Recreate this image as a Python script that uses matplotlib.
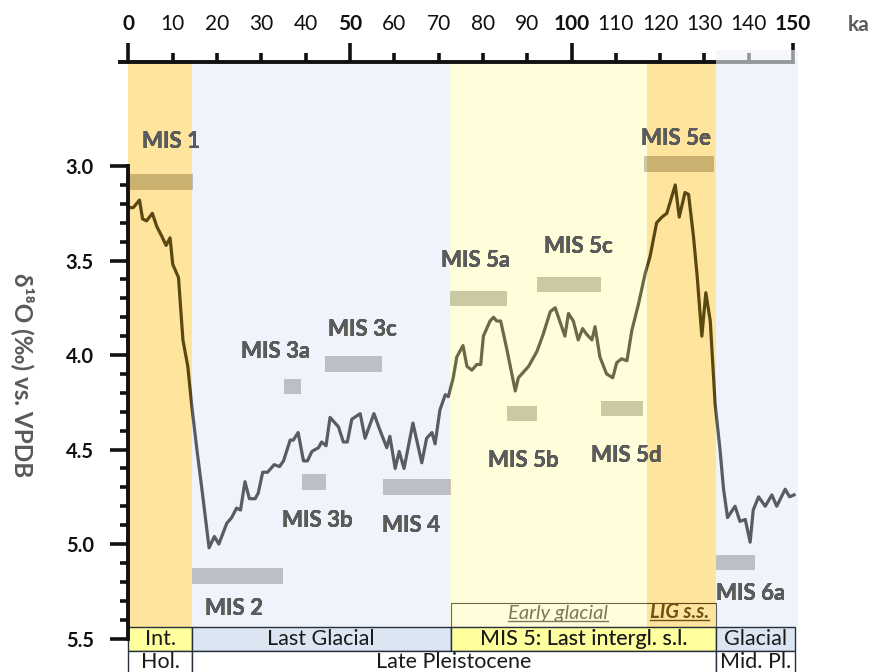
import numpy as np
import matplotlib
matplotlib.use('Agg')
import matplotlib.pyplot as plt
from matplotlib.patches import Rectangle
from matplotlib.transforms import Bbox, TransformedBbox

plt.rcParams['font.family'] = ['Lato', 'DejaVu Sans']

# benthic d18O stack, ka vs permil
age = [0.4, 1.1, 2.5, 3.2, 4.1, 5.4, 6.4, 7.5, 8.5, 9.4,
       10.0, 11.3, 12.3, 13.4, 14.3, 15.4, 16.8, 18.2, 19.4, 20.4,
       22.2, 23.3, 24.4, 25.3, 26.3, 27.3, 28.6, 29.3, 30.3, 31.4,
       32.9, 34.1, 35.0, 36.5, 37.2, 38.3, 39.5, 40.4, 41.4, 42.9,
       43.6, 44.6, 45.5, 47.4, 48.5, 49.4, 50.4, 52.3, 53.4, 55.4,
       56.8, 58.3, 59.0, 60.2, 61.1, 62.2, 64.2, 66.2, 67.3, 68.5,
       69.2, 70.3, 71.5, 72.2, 73.3, 74.1, 75.5, 76.4, 77.5, 78.6,
       79.5, 80.1, 81.6, 82.4, 83.1, 84.0, 85.4, 87.3, 88.0, 90.3,
       92.2, 93.6, 95.2, 96.3, 98.5, 99.3, 100.4, 101.5, 102.5, 103.4,
       104.6, 105.3, 106.4, 107.9, 109.3, 110.2, 111.3, 112.5, 113.6, 115.1,
       116.6, 117.7, 119.2, 120.4, 121.5, 123.4, 124.3, 125.6, 126.4, 127.5,
       128.3, 129.4, 130.3, 131.3, 132.4, 133.5, 134.3, 135.2, 136.9, 138.0,
       139.2, 140.3, 141.0, 142.2, 143.7, 145.2, 146.3, 148.2, 149.2, 150.2]
d18o = [3.22, 3.22, 3.18, 3.28, 3.29, 3.25, 3.32, 3.37, 3.42, 3.38,
        3.52, 3.59, 3.92, 4.06, 4.27, 4.49, 4.75, 5.02, 4.96, 5.00,
        4.89, 4.86, 4.81, 4.82, 4.67, 4.76, 4.76, 4.73, 4.62, 4.62,
        4.58, 4.59, 4.56, 4.45, 4.45, 4.41, 4.56, 4.56, 4.51, 4.49,
        4.46, 4.48, 4.33, 4.38, 4.46, 4.46, 4.34, 4.31, 4.44, 4.31,
        4.40, 4.49, 4.43, 4.60, 4.51, 4.60, 4.36, 4.57, 4.44, 4.41,
        4.47, 4.29, 4.21, 4.22, 4.12, 4.01, 3.95, 4.06, 4.08, 4.05,
        4.05, 3.90, 3.82, 3.80, 3.82, 3.82, 3.97, 4.19, 4.12, 4.06,
        3.98, 3.89, 3.77, 3.75, 3.90, 3.78, 3.82, 3.92, 3.86, 3.89,
        3.92, 3.85, 4.01, 4.10, 4.12, 4.04, 4.02, 4.03, 3.87, 3.73,
        3.57, 3.48, 3.30, 3.27, 3.25, 3.10, 3.27, 3.14, 3.15, 3.37,
        3.57, 3.90, 3.67, 3.82, 4.26, 4.50, 4.71, 4.86, 4.80, 4.88,
        4.87, 4.99, 4.82, 4.75, 4.80, 4.74, 4.80, 4.71, 4.75, 4.74]

# MIS substage bars
mis_names = ['MIS 1', 'MIS 2', 'MIS 3a', 'MIS 3b', 'MIS 3c', 'MIS 4',
             'MIS 5a', 'MIS 5b', 'MIS 5c', 'MIS 5d', 'MIS 5e', 'MIS 6a']
mis_start = [0.4, 14.4, 35.0, 39.1, 44.4, 57.4, 72.6, 85.5, 92.1, 106.6, 116.4, 132.6]
mis_end = [14.5, 34.9, 39.0, 44.6, 57.3, 72.7, 85.4, 92.1, 106.7, 116.2, 132.2, 141.4]
mis_level = [3.085, 5.17, 4.167, 4.672, 4.048, 4.697, 3.70, 4.309, 3.627, 4.283, 2.99, 5.098]
label_x = [9.5, 23.9, 33.3, 42.6, 52.9, 63.7, 78.4, 89.1, 101.5, 112.3, 123.5, 140.5]
label_y = [2.906, 5.376, 4.017, 4.908, 3.899, 4.935, 3.533, 4.591, 3.459, 4.565, 2.889, 5.296]

# climate bands
band_start = [0, 14.3, 72.6, 117.0, 132.7]
band_end = [14.3, 72.6, 117.0, 132.7, 151.1]
band_kind = ['warm', 'cold', 'mis5', 'warm', 'cold']

# bottom table
row1_labels = ['Int.', 'Last Glacial', 'MIS 5: Last intergl. s.l.', 'Glacial']
row1_start = [0, 14.3, 72.7, 132.7]
row1_end = [14.3, 72.7, 132.7, 150.4]
row1_fill = ['#FFFF9E', '#DCE6F2', '#FFFF9E', '#DCE6F2']
row2_labels = ['Hol.', 'Late Pleistocene', 'Mid. Pl.']
row2_start = [0, 14.3, 132.7]
row2_end = [14.3, 132.7, 150.4]

x_major = [0, 50, 100, 150]
x_minor = [10, 20, 30, 40, 60, 70, 80, 90, 110, 120, 130, 140]
y_major = [3.0, 3.5, 4.0, 4.5, 5.0, 5.5]

STYLE = {
    'warm': dict(fill='#FFE49E', line='#5A4813', bar='#CBB16F', text='#4F4113'),
    'cold': dict(fill='#EFF3FB', line='#595C64', bar='#BCBFC7', text='#595C65'),
    'mis5': dict(fill='#FFFDDA', line='#6B6946', bar='#CBC9A4', text='#65643D'),
}

fig = plt.figure(figsize=(8.72, 6.72), dpi=100)
ax = fig.add_axes([120 / 872, 0, 678 / 872, 622 / 672])
ax.set_xlim(-1.9, 151.1)
ax.set_ylim(5.677, 2.386)
ax.patch.set_visible(False)

AXIS_Y = 2.45
ROW1 = (5.439, 5.566)
ROW2 = (5.566, 5.72)


def clip_box(x0, x1):
    lo, hi = ax.get_ylim()
    return TransformedBbox(Bbox([[x0, lo], [x1, hi]]), ax.transData)


# bands
for s, e, k in zip(band_start, band_end, band_kind):
    ax.add_patch(Rectangle((s, AXIS_Y), e - s, ROW1[0] - AXIS_Y,
                           facecolor=STYLE[k]['fill'], edgecolor='none', zorder=0))

# everything under the bands gets the band's tint
for s, e, k in zip(band_start, band_end, band_kind):
    st = STYLE[k]
    cb = clip_box(s, e)
    bars = ax.barh(mis_level, np.array(mis_end) - np.array(mis_start), left=mis_start,
                   height=0.082, color=st['bar'], zorder=1)
    for b in bars:
        b.set_clip_box(cb)
    ln, = ax.plot(age, d18o, color=st['line'], lw=2.3, solid_joinstyle='round', zorder=2)
    ln.set_clip_box(cb)
    for name, lx, ly in zip(mis_names, label_x, label_y):
        t = ax.text(lx, ly, name, ha='center', va='baseline', fontsize=16,
                    fontweight='bold', color=st['text'], zorder=3)
        t.set_clip_box(cb)
    eg = Rectangle((72.7, 5.312), 132.7 - 72.7, ROW1[0] - 5.312, facecolor='none',
                   edgecolor=st['line'], lw=0.8, zorder=1)
    ax.add_patch(eg)
    eg.set_clip_box(cb)

# blue band over the top axis beyond 130 ka
ax.add_patch(Rectangle((band_start[4], 2.386), band_end[4] - band_start[4], 0.09,
                       facecolor=STYLE['cold']['fill'], alpha=0.6, edgecolor='none',
                       zorder=5, clip_on=False))

# table
for lab, s, e, f in zip(row1_labels, row1_start, row1_end, row1_fill):
    ax.add_patch(Rectangle((s, ROW1[0]), e - s, ROW1[1] - ROW1[0], facecolor=f,
                           edgecolor='#26313d', lw=1.0, zorder=1))
    if lab.startswith('MIS 5'):
        for x0, x1, c in [(s, 117.0, '#85845C'), (117.0, e, '#1a1a1a')]:
            t = ax.text((s + e) / 2, sum(ROW1) / 2, lab, ha='center', va='center',
                        fontsize=15.5, color=c, zorder=3)
            t.set_clip_box(clip_box(x0, x1))
    else:
        ax.text((s + e) / 2, sum(ROW1) / 2, lab, ha='center', va='center',
                fontsize=15.5, color='#1a1a1a', zorder=3)
for lab, s, e in zip(row2_labels, row2_start, row2_end):
    ax.add_patch(Rectangle((s, ROW2[0]), e - s, ROW2[1] - ROW2[0], facecolor='white',
                           edgecolor='#26313d', lw=1.0, zorder=1))
    ax.text((s + e) / 2, 5.622, lab, ha='center', va='center',
            fontsize=15.5, color='#1a1a1a', zorder=3)

t_early = ax.text(97.0, 5.394, 'Early glacial', ha='center', va='baseline',
                  fontsize=14.5, style='italic', color='#7A795D', zorder=3)
t_lig = ax.text(124.4, 5.390, 'LIG s.s.', ha='center', va='baseline',
                fontsize=14.5, style='italic', fontweight='bold', color='#6B5214', zorder=3)

# axes
for s in ['right', 'bottom']:
    ax.spines[s].set_visible(False)
ax.spines['left'].set_position(('data', 0))
ax.spines['left'].set_bounds(3.0, 5.5)
ax.spines['top'].set_position(('data', AXIS_Y))
ax.spines['top'].set_bounds(-1.9, 150)
for s in ['left', 'top']:
    ax.spines[s].set_linewidth(2.8)
    ax.spines[s].set_color('#111111')
    ax.spines[s].set_zorder(4)

ax.xaxis.set_ticks_position('top')
ax.set_xticks(x_major)
ax.set_xticklabels([str(v) for v in x_major], fontweight='bold')
ax.set_xticks(x_minor, minor=True)
ax.set_xticklabels([str(v) for v in x_minor], minor=True)
ax.tick_params(axis='x', which='both', top=True, bottom=False, labeltop=True,
               labelbottom=False, direction='out', width=2.6, labelsize=15,
               color='#111111', labelcolor='#111111')
ax.tick_params(axis='x', which='major', length=13.7, pad=6.5)
ax.tick_params(axis='x', which='minor', length=6.5, pad=13.7)

ax.set_yticks(y_major)
ax.set_yticklabels(['%.1f' % v for v in y_major], fontweight='bold')
ax.set_yticks([round(3.0 + 0.1 * i, 1) for i in range(26)], minor=True)
ax.tick_params(axis='y', which='both', left=True, direction='out', width=2.6,
               labelsize=14.5, color='#111111', labelcolor='#111111')
ax.tick_params(axis='y', which='major', length=13, pad=12)
ax.tick_params(axis='y', which='minor', length=5.8)

ax.text(164.7, 2.254, 'ka', ha='center', va='center', fontsize=15,
        fontweight='bold', color='#5a5a5a', clip_on=False)
fig.text(23 / 872, 1 - 375 / 672, 'δ¹⁸O (‰) vs. VPDB', rotation=270,
         ha='center', va='center', fontsize=17.5, fontweight='bold', color='#5a5a5a')

# underline the two italic labels
fig.canvas.draw()
r = fig.canvas.get_renderer()
for t, uy in [(t_early, 5.405), (t_lig, 5.403)]:
    bb = t.get_window_extent(r).transformed(ax.transData.inverted())
    ax.plot([bb.x0, bb.x1], [uy, uy], color=t.get_color(), lw=1.0, zorder=3)

fig.savefig('out.png', dpi=100)
